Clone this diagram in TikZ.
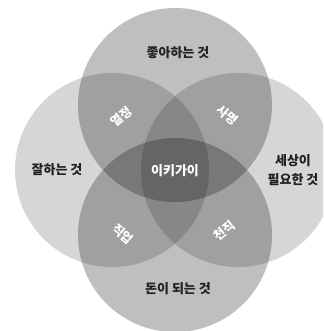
\documentclass[tikz,border=0pt]{standalone}
\usepackage{fontspec}
\newfontfamily\kr{Noto Sans CJK KR}
\begin{document}
\begin{tikzpicture}[x=1pt,y=1pt,
  outerlbl/.style={font=\kr\bfseries\fontsize{13}{19}\selectfont, text=black!87, align=center, inner sep=0pt},
  innerlbl/.style={font=\kr\bfseries\fontsize{12.5}{15}\selectfont, text=white, inner sep=0pt},
  ringtb/.style={fill=black, fill opacity=0.25},
  ringlr/.style={fill=black, fill opacity=0.16}]
\useasboundingbox (0,0) rectangle (323,-331);
\begin{scope}
\clip (0,0) rectangle (323,-331);
\fill[ringlr] (112,-170) circle (97pt);
\fill[ringlr] (238,-170) circle (97pt);
\fill[ringtb] (175,-105) circle (97pt);
\fill[ringtb] (175,-235) circle (97pt);
\end{scope}
\node[outerlbl] (like) at (178,-53) {좋아하는 것};
\node[outerlbl] (good) at (57,-170) {잘하는 것};
\node[outerlbl] (need) at (293,-170) {세상이\\필요한 것};
\node[outerlbl] (money) at (178,-289) {돈이 되는 것};
\node[innerlbl, font=\kr\bfseries\fontsize{13}{15}\selectfont] (ikigai) at (175,-171) {이키가이};
\node[innerlbl, rotate=40] (passion) at (121,-117) {열정};
\node[innerlbl, rotate=-40] (mission) at (227,-115) {사명};
\node[innerlbl, rotate=-40] (profession) at (123,-234) {직업};
\node[innerlbl, rotate=40] (vocation) at (224,-231) {천직};
\end{tikzpicture}
\end{document}
